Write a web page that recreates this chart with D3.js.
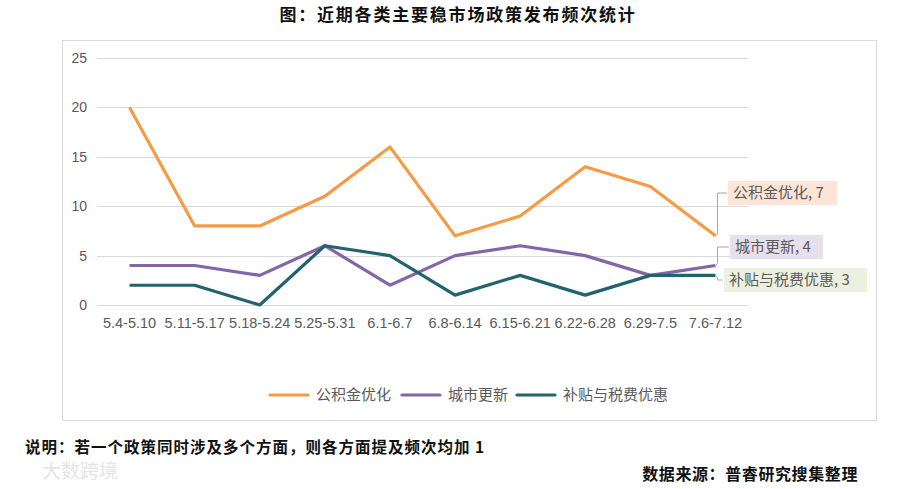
<!DOCTYPE html>
<html>
<head>
<meta charset="utf-8">
<script src="https://cdn.jsdelivr.net/npm/d3@7"></script>
<style>
  body { margin: 0; background: #fff; }
  text { font-family: "Noto Sans CJK SC", "Noto Sans", sans-serif; }
</style>
</head>
<body>
<script>
var weeks = ["5.4-5.10", "5.11-5.17", "5.18-5.24", "5.25-5.31", "6.1-6.7",
             "6.8-6.14", "6.15-6.21", "6.22-6.28", "6.29-7.5", "7.6-7.12"];
var gjj = [20, 8, 8, 11, 16, 7, 9, 14, 12, 7];
var csgx = [4, 4, 3, 6, 2, 5, 6, 5, 3, 4];
var btsf = [2, 2, 0, 6, 5, 1, 3, 1, 3, 3];
var seriesNames = ["公积金优化", "城市更新", "补贴与税费优惠"];
var yTicks = [0, 5, 10, 15, 20, 25];

var series = [
  { name: seriesNames[0], values: gjj, color: "#F59A45", labelBg: "#FBE5D6" },
  { name: seriesNames[1], values: csgx, color: "#8466A8", labelBg: "#E5E0EC" },
  { name: seriesNames[2], values: btsf, color: "#23636F", labelBg: "#EBF1DE" }
];

var svg = d3.select("body").append("svg")
    .attr("width", 900)
    .attr("height", 489);

svg.append("text")
    .attr("x", 458).attr("y", 21)
    .attr("text-anchor", "middle")
    .attr("font-size", 17).attr("font-weight", "bold")
    .attr("letter-spacing", 1.8)
    .attr("fill", "#111")
    .text("图：近期各类主要稳市场政策发布频次统计");

// chart frame
svg.append("rect")
    .attr("x", 62.5).attr("y", 40.5)
    .attr("width", 814).attr("height", 380)
    .attr("fill", "#fff")
    .attr("stroke", "#d9d9d9");

var x = d3.scaleBand().domain(weeks).range([97, 748]);
var y = d3.scaleLinear().domain([0, 25]).range([305, 58]);

var grid = svg.append("g");
grid.selectAll("line").data(yTicks).enter().append("line")
    .attr("x1", 97).attr("x2", 748)
    .attr("y1", function(d) { return Math.round(y(d)) + 0.5; })
    .attr("y2", function(d) { return Math.round(y(d)) + 0.5; })
    .attr("stroke", "#d9d9d9").attr("stroke-width", 1);

var yAxis = d3.axisLeft(y).tickValues(yTicks).tickSize(0).tickPadding(0);
var yg = svg.append("g").attr("transform", "translate(87,0)").call(yAxis);
yg.select(".domain").remove();
yg.selectAll("text").attr("font-size", 14).attr("fill", "#595959")
    .style("font-family", "'Liberation Sans', Arial, sans-serif");

var xAxis = d3.axisBottom(x).tickSize(0).tickPadding(0);
var xg = svg.append("g").attr("transform", "translate(0,318)").call(xAxis);
xg.select(".domain").remove();
xg.selectAll("text").attr("font-size", 14.5).attr("fill", "#595959")
    .style("font-family", "'Liberation Sans', Arial, sans-serif");

var line = d3.line()
    .x(function(d, i) { return x(weeks[i]) + x.bandwidth() / 2; })
    .y(function(d) { return y(d); });

svg.selectAll(".series").data(series).enter().append("path")
    .attr("class", "series")
    .attr("d", function(s) { return line(s.values); })
    .attr("fill", "none")
    .attr("stroke", function(s) { return s.color; })
    .attr("stroke-width", 3.2)
    .attr("stroke-linejoin", "round");

// end-of-line data labels with leader lines
var last = weeks.length - 1;
var lx = x(weeks[last]) + x.bandwidth() / 2;
var labelPos = [
  { bx: 728, cy: 193, w: 109 },
  { bx: 730, cy: 247, w: 93 },
  { bx: 724, cy: 280, w: 143 }
];
series.forEach(function(s, i) {
  var p = labelPos[i];
  var py = y(s.values[last]);
  var g = svg.append("g");
  g.append("path")
      .attr("d", "M" + lx + "," + py + " L" + (lx + 2) + "," + (py + (p.cy > py ? 2 : -2)) +
                 " L" + (lx + 2) + "," + p.cy + " L" + (p.bx - 1) + "," + p.cy)
      .attr("fill", "none").attr("stroke", "#a6a6a6").attr("stroke-width", 1);
  g.append("rect")
      .attr("x", p.bx).attr("y", p.cy - 12)
      .attr("width", p.w).attr("height", 24)
      .attr("fill", s.labelBg);
  g.append("text")
      .attr("x", p.bx + 5).attr("y", p.cy + 5)
      .attr("font-size", 15).attr("fill", "#595959")
      .text(s.name + ", " + s.values[last]);
});

// legend
var legendX = [270, 402, 517];
var lg = svg.append("g").selectAll("g").data(series).enter().append("g")
    .attr("transform", function(d, i) { return "translate(" + legendX[i] + ",395)"; });
lg.append("line")
    .attr("x1", 0).attr("x2", 38).attr("y1", 0).attr("y2", 0)
    .attr("stroke", function(d) { return d.color; })
    .attr("stroke-width", 3.2).attr("stroke-linecap", "round");
lg.append("text")
    .attr("x", 46).attr("y", 5)
    .attr("font-size", 15).attr("fill", "#595959")
    .text(function(d) { return d.name; });

svg.append("text")
    .attr("x", 25).attr("y", 453)
    .attr("font-size", 15.5).attr("font-weight", "bold").attr("fill", "#111")
    .attr("letter-spacing", 1)
    .text("说明：若一个政策同时涉及多个方面，则各方面提及频次均加 1");

svg.append("text")
    .attr("x", 858).attr("y", 480)
    .attr("text-anchor", "end")
    .attr("font-size", 16).attr("font-weight", "bold").attr("fill", "#111")
    .attr("letter-spacing", 0.6)
    .text("数据来源：普睿研究搜集整理");

svg.append("text")
    .attr("x", 42).attr("y", 478)
    .attr("font-size", 19).attr("fill", "#e4e4e4")
    .text("大数跨境");
</script>
</body>
</html>
